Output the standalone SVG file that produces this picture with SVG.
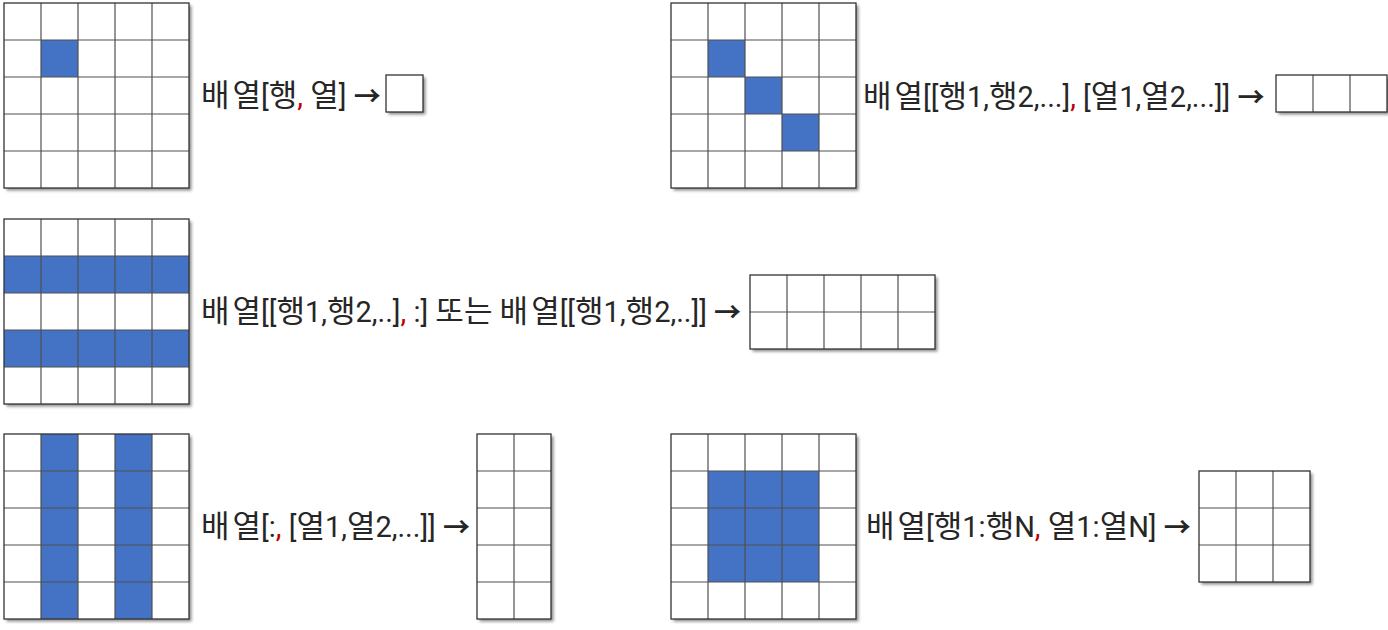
<svg xmlns="http://www.w3.org/2000/svg" width="1388" height="630" viewBox="0 0 1388 630">
<style>
.bg{fill:#ffffff;filter:url(#sh)}
.b{fill:#4472c4}
.ln{stroke:#505050;stroke-width:1.2;fill:none}
.ol{stroke:#333333;stroke-width:1.3;fill:none}
.t{font-family:"Roboto","Noto Sans CJK KR",sans-serif;font-size:29px;fill:#262626}
.h{font-family:"Noto Sans CJK KR","Noto Sans CJK SC",sans-serif;font-size:31px}
.a{font-family:"Noto Sans CJK KR",sans-serif;font-size:27px;font-weight:700}
.r{fill:#c00000}
</style>
<defs>
<filter id="sh" x="-10%" y="-10%" width="130%" height="130%">
<feDropShadow dx="2.5" dy="2.5" stdDeviation="1.5" flood-color="#000000" flood-opacity="0.45"/>
</filter>
</defs>
<rect width="1388" height="630" fill="#ffffff"/>

<g id="grid1">
<rect class="bg" x="4" y="3" width="185" height="185"/>
<rect class="b" x="41" y="40" width="37" height="37"/>
<path class="ln" d="M41 3V188M78 3V188M115 3V188M152 3V188M4 40H189M4 77H189M4 114H189M4 151H189"/>
<rect class="ol" x="4" y="3" width="185" height="185"/>
</g>
<g id="label1">
<text class="t" x="201" y="106"><tspan class="h">배</tspan><tspan class="h" dx="3">열</tspan>[<tspan class="h">행</tspan><tspan class="r">,</tspan> <tspan class="h">열</tspan>] <tspan class="a">→</tspan></text>
</g>
<g id="out1">
<rect class="bg" x="386" y="75" width="37" height="37"/>
<rect class="ol" x="386" y="75" width="37" height="37"/>
</g>

<g id="grid2">
<rect class="bg" x="671" y="3" width="185" height="185"/>
<rect class="b" x="708" y="40" width="37" height="37"/>
<rect class="b" x="745" y="77" width="37" height="37"/>
<rect class="b" x="782" y="114" width="37" height="37"/>
<path class="ln" d="M708 3V188M745 3V188M782 3V188M819 3V188M671 40H856M671 77H856M671 114H856M671 151H856"/>
<rect class="ol" x="671" y="3" width="185" height="185"/>
</g>
<g id="label2">
<text class="t" x="863" y="107"><tspan class="h">배</tspan><tspan class="h" dx="3">열</tspan>[[<tspan class="h">행</tspan>1,<tspan class="h">행</tspan>2,...]<tspan class="r">,</tspan> [<tspan class="h">열</tspan>1,<tspan class="h">열</tspan>2,...]] <tspan class="a">→</tspan></text>
</g>
<g id="out2">
<rect class="bg" x="1276" y="75" width="111" height="37"/>
<path class="ln" d="M1313 75V112M1350 75V112"/>
<rect class="ol" x="1276" y="75" width="111" height="37"/>
</g>

<g id="grid3">
<rect class="bg" x="4" y="219" width="185" height="185"/>
<rect class="b" x="4" y="256" width="185" height="37"/>
<rect class="b" x="4" y="330" width="185" height="37"/>
<path class="ln" d="M41 219V404M78 219V404M115 219V404M152 219V404M4 256H189M4 293H189M4 330H189M4 367H189"/>
<rect class="ol" x="4" y="219" width="185" height="185"/>
</g>
<g id="label3">
<text class="t" x="201" y="322"><tspan class="h">배</tspan><tspan class="h" dx="3">열</tspan>[[<tspan class="h">행</tspan>1,<tspan class="h">행</tspan>2,..]<tspan class="r">,</tspan> :] <tspan class="h">또는</tspan> <tspan class="h">배</tspan><tspan class="h" dx="3">열</tspan>[[<tspan class="h">행</tspan>1,<tspan class="h">행</tspan>2,..]] <tspan class="a">→</tspan></text>
</g>
<g id="out3">
<rect class="bg" x="750" y="275" width="185" height="74"/>
<path class="ln" d="M787 275V349M824 275V349M861 275V349M898 275V349M750 312H935"/>
<rect class="ol" x="750" y="275" width="185" height="74"/>
</g>

<g id="grid4">
<rect class="bg" x="4" y="434" width="185" height="185"/>
<rect class="b" x="41" y="434" width="37" height="185"/>
<rect class="b" x="115" y="434" width="37" height="185"/>
<path class="ln" d="M41 434V619M78 434V619M115 434V619M152 434V619M4 471H189M4 508H189M4 545H189M4 582H189"/>
<rect class="ol" x="4" y="434" width="185" height="185"/>
</g>
<g id="label4">
<text class="t" x="201" y="537"><tspan class="h">배</tspan><tspan class="h" dx="3">열</tspan>[:<tspan class="r">,</tspan> [<tspan class="h">열</tspan>1,<tspan class="h">열</tspan>2,...]] <tspan class="a">→</tspan></text>
</g>
<g id="out4">
<rect class="bg" x="477" y="434" width="74" height="185"/>
<path class="ln" d="M514 434V619M477 471H551M477 508H551M477 545H551M477 582H551"/>
<rect class="ol" x="477" y="434" width="74" height="185"/>
</g>

<g id="grid5">
<rect class="bg" x="671" y="434" width="185" height="185"/>
<rect class="b" x="708" y="471" width="111" height="111"/>
<path class="ln" d="M708 434V619M745 434V619M782 434V619M819 434V619M671 471H856M671 508H856M671 545H856M671 582H856"/>
<rect class="ol" x="671" y="434" width="185" height="185"/>
</g>
<g id="label5">
<text class="t" x="866" y="537"><tspan class="h">배</tspan><tspan class="h" dx="3">열</tspan>[<tspan class="h">행</tspan>1:<tspan class="h">행</tspan>N<tspan class="r">,</tspan> <tspan class="h">열</tspan>1:<tspan class="h">열</tspan>N] <tspan class="a">→</tspan></text>
</g>
<g id="out5">
<rect class="bg" x="1199" y="471" width="111" height="111"/>
<path class="ln" d="M1236 471V582M1273 471V582M1199 508H1310M1199 545H1310"/>
<rect class="ol" x="1199" y="471" width="111" height="111"/>
</g>
</svg>
